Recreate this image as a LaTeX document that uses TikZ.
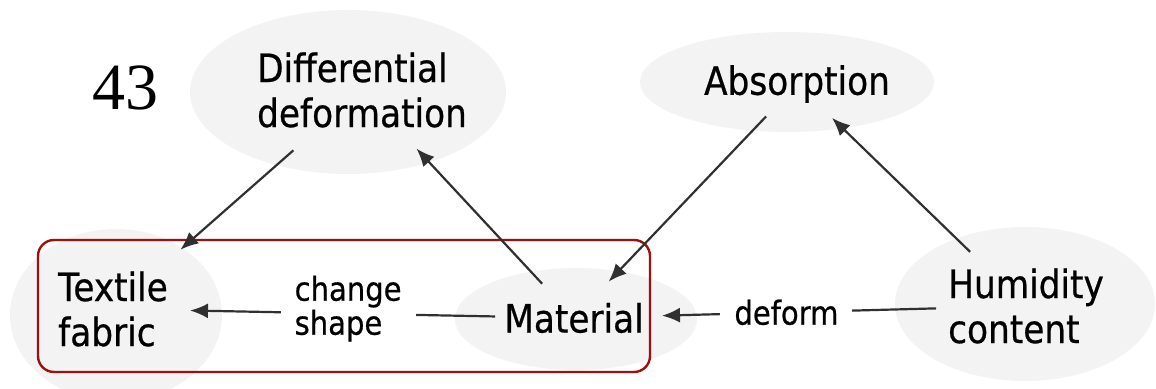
\documentclass[tikz,border=0pt]{standalone}
\usepackage{fontspec}
\setmainfont{DejaVu Sans}[FakeStretch=0.88,FakeBold=0.6]
\newfontfamily\numfont{Liberation Serif}
\usetikzlibrary{arrows.meta}
\definecolor{bubblegray}{HTML}{F3F3F3}
\definecolor{boxred}{HTML}{A00F0F}
\definecolor{linegray}{HTML}{303030}
\tikzset{
  bubble/.style={fill=bubblegray},
  concept/.style={font=\fontsize{19.5}{22.5}\selectfont, align=left, inner sep=0pt},
  relabel/.style={font=\fontsize{16.5}{17}\selectfont, align=left, fill=white, inner sep=7pt},
  conn/.style={draw=linegray, line width=1.1pt, -{Latex[length=9pt,width=7.5pt]}},
  groupbox/.style={draw=boxred, line width=1.2pt, rounded corners=8pt},
}
\begin{document}
\begin{tikzpicture}[x=0.5pt,y=-0.5pt]
\path[use as bounding box, fill=white] (0,0) rectangle (1156,389);

% soft background bubbles behind the concepts
\begin{scope}
  \clip (0,0) rectangle (1156,389);
  \fill[bubble] (348,92)  ellipse [x radius=79pt, y radius=41pt];
  \fill[bubble] (787,82)  ellipse [x radius=73.5pt, y radius=25pt];
  \fill[bubble] (116,315) ellipse [x radius=53pt, y radius=43pt];
  \fill[bubble] (576,319) ellipse [x radius=60.5pt, y radius=25.5pt];
  \fill[bubble] (1025,304) ellipse [x radius=65pt, y radius=38.5pt];
\end{scope}

% frame around the fabric/material pair
\draw[groupbox] (38,240) rectangle (650,372);

% concepts
\node[font=\numfont\fontsize{33}{33}\selectfont, inner sep=0pt] (num) at (125,88) {43};
\node[concept] (diff) at (362,90)  {Differential\\deformation};
\node[concept] (abs)  at (797,84)  {Absorption};
\node[concept] (tex)  at (113,309) {Textile\\fabric};
\node[concept] (mat)  at (574,318) {Material};
\node[concept] (hum)  at (1026,306) {Humidity\\content};

% relations
\draw[conn, shorten <=45.7pt, shorten >=44.9pt] (diff.center) -- (tex.center);
\draw[conn, shorten <=23.4pt, shorten >=40pt]   (mat.center)  -- (diff.center);
\draw[conn, shorten <=22.4pt, shorten >=25.1pt] (abs.center)  -- (mat.center);
\draw[conn, shorten <=38.9pt, shorten >=24.4pt] (hum.center)  -- (abs.center);
\draw[conn, shorten <=39.5pt, shorten >=38.5pt] (mat.center)  -- node[relabel, pos=0.49, yshift=2.5pt] (lshape) {change\\shape} (tex.center);
\draw[conn, shorten <=45pt, shorten >=44pt]     (hum.center)  -- node[relabel, pos=0.53] (ldeform) {deform} (mat.center);
\end{tikzpicture}
\end{document}
